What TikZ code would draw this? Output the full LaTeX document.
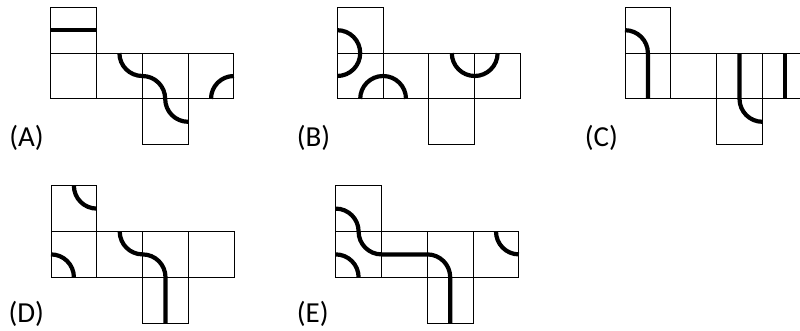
\documentclass[tikz,border=0pt]{standalone}
\usepackage{fontspec}
\setmainfont{Carlito}
\usepackage{tikz}

\begin{document}
\begin{tikzpicture}[
    x=1pt, y=-1pt,
    cell/.style={draw=black, line width=1pt},
    track/.style={draw=black, line width=4.2pt},
    netlabel/.style={anchor=east, inner sep=0pt, font=\fontsize{29}{34}\selectfont},
    netscope/.style={x=45.8pt, y=-45.8pt},
]
\useasboundingbox (0,0) rectangle (800,331);
\clip (0,0) rectangle (800,331);

% Net A
\begin{scope}[shift={(50.7,7.3)}, netscope]
  \foreach \c/\r in {0/0, 0/1, 1/1, 2/1, 3/1, 2/2}
    \draw[cell] (\c,\r) rectangle ++(1,1);
  \draw[track] (0,0.5) -- (1,0.5);
  \draw[track] (1.5,1) arc[start angle=180, end angle=90, radius=0.5]
    arc[start angle=-90, end angle=0, radius=0.5]
    arc[start angle=180, end angle=90, radius=0.5];
  \draw[track] (3.5,2) arc[start angle=180, end angle=270, radius=0.5];
  \node[netlabel] (labA) at (-0.15,2.86) {(A)};
\end{scope}

% Net B
\begin{scope}[shift={(337.3,7.3)}, netscope]
  \foreach \c/\r in {0/0, 0/1, 1/1, 2/1, 3/1, 2/2}
    \draw[cell] (\c,\r) rectangle ++(1,1);
  \draw[track] (0,0.5) arc[start angle=-90, end angle=90, radius=0.5];
  \draw[track] (0.5,2) arc[start angle=180, end angle=360, radius=0.5];
  \draw[track] (2.5,1) arc[start angle=180, end angle=0, radius=0.5];
  \node[netlabel] (labB) at (-0.15,2.86) {(B)};
\end{scope}

% Net C
\begin{scope}[shift={(625,7.3)}, netscope]
  \foreach \c/\r in {0/0, 0/1, 1/1, 2/1, 3/1, 2/2}
    \draw[cell] (\c,\r) rectangle ++(1,1);
  \draw[track] (0,0.5) arc[start angle=-90, end angle=0, radius=0.5] -- (0.5,2);
  \draw[track] (2.5,1) -- (2.5,2) arc[start angle=180, end angle=90, radius=0.5];
  \draw[track] (3.5,1) -- (3.5,2);
  \node[netlabel] (labC) at (-0.15,2.86) {(C)};
\end{scope}

% Net D
\begin{scope}[shift={(51,185.7)}, netscope]
  \foreach \c/\r in {0/0, 0/1, 1/1, 2/1, 3/1, 2/2}
    \draw[cell] (\c,\r) rectangle ++(1,1);
  \draw[track] (0.5,0) arc[start angle=180, end angle=90, radius=0.5];
  \draw[track] (0,1.5) arc[start angle=-90, end angle=0, radius=0.5];
  \draw[track] (1.5,1) arc[start angle=180, end angle=90, radius=0.5]
    arc[start angle=-90, end angle=0, radius=0.5] -- (2.5,3);
  \node[netlabel] (labD) at (-0.15,2.79) {(D)};
\end{scope}

% Net E
\begin{scope}[shift={(335.7,185.7)}, netscope]
  \foreach \c/\r in {0/0, 0/1, 1/1, 2/1, 3/1, 2/2}
    \draw[cell] (\c,\r) rectangle ++(1,1);
  \draw[track] (0,0.5) arc[start angle=-90, end angle=0, radius=0.5]
    arc[start angle=180, end angle=90, radius=0.5] -- (2,1.5)
    arc[start angle=-90, end angle=0, radius=0.5] -- (2.5,3);
  \draw[track] (0,1.5) arc[start angle=-90, end angle=0, radius=0.5];
  \draw[track] (3.5,1) arc[start angle=180, end angle=90, radius=0.5];
  \node[netlabel] (labE) at (-0.15,2.79) {(E)};
\end{scope}
\end{tikzpicture}
\end{document}
